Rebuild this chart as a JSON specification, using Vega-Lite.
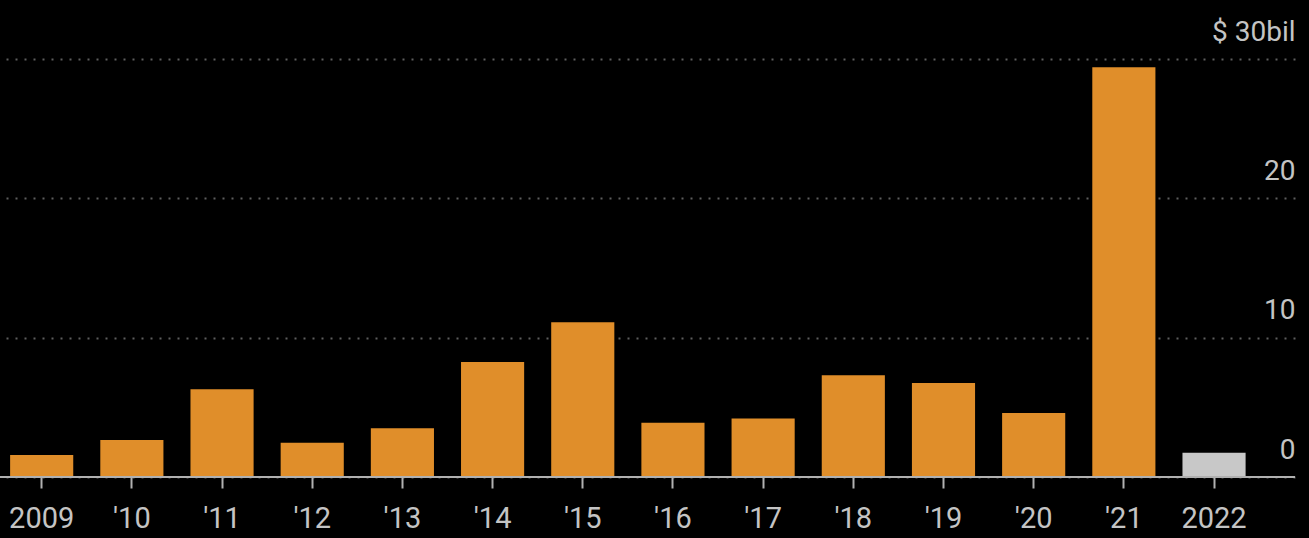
{
  "$schema": "https://vega.github.io/schema/vega-lite/v6.json",
  "background": "#000000",
  "autosize": "none",
  "padding": {"left": 0, "top": 59, "right": 14, "bottom": 61},
  "width": 1295,
  "height": 418,
  "config": {
    "view": {"stroke": null},
    "font": "Roboto"
  },
  "data": {
    "values": [
      {"year": "2009", "value": 1.58, "kind": "full"},
      {"year": "'10", "value": 2.66, "kind": "full"},
      {"year": "'11", "value": 6.3, "kind": "full"},
      {"year": "'12", "value": 2.46, "kind": "full"},
      {"year": "'13", "value": 3.5, "kind": "full"},
      {"year": "'14", "value": 8.25, "kind": "full"},
      {"year": "'15", "value": 11.1, "kind": "full"},
      {"year": "'16", "value": 3.9, "kind": "full"},
      {"year": "'17", "value": 4.2, "kind": "full"},
      {"year": "'18", "value": 7.3, "kind": "full"},
      {"year": "'19", "value": 6.75, "kind": "full"},
      {"year": "'20", "value": 4.6, "kind": "full"},
      {"year": "'21", "value": 29.4, "kind": "full"},
      {"year": "2022", "value": 1.74, "kind": "partial"}
    ]
  },
  "layer": [
    {
      "mark": {"type": "bar"},
      "encoding": {
        "x": {
          "field": "year",
          "type": "ordinal",
          "sort": null,
          "scale": {"paddingInner": 0.3, "paddingOuter": 0.33, "align": 0.17},
          "axis": {
            "title": null,
            "domain": false,
            "labelAngle": 0,
            "labelFontSize": 29,
            "labelColor": "#c4c4c4",
            "labelPadding": 16,
            "tickColor": "#b0b0b0",
            "tickSize": 11,
            "tickWidth": 2,
            "grid": false
          }
        },
        "y": {
          "field": "value",
          "type": "quantitative",
          "scale": {"domain": [0, 30], "nice": false},
          "axis": {
            "title": null,
            "orient": "right",
            "values": [0, 10, 20, 30],
            "domain": false,
            "ticks": false,
            "tickSize": 0,
            "labelPadding": 0,
            "labelAlign": "right",
            "labelBaseline": "alphabetic",
            "labelOffset": -19,
            "labelFontSize": 28,
            "labelColor": "#c4c4c4",
            "labelExpr": "datum.value == 30 ? '$ 30bil' : datum.label",
            "grid": true,
            "gridColor": "#5e5e5e",
            "gridWidth": 2,
            "gridDash": [2, 7]
          }
        },
        "color": {
          "field": "kind",
          "type": "nominal",
          "scale": {"domain": ["full", "partial"], "range": ["#e08e2a", "#c8c8c8"]},
          "legend": null
        }
      }
    },
    {
      "data": {"values": [{"base": 0}]},
      "mark": {"type": "rule", "color": "#b0b0b0", "strokeWidth": 2},
      "encoding": {
        "y": {"field": "base", "type": "quantitative"}
      }
    }
  ]
}
